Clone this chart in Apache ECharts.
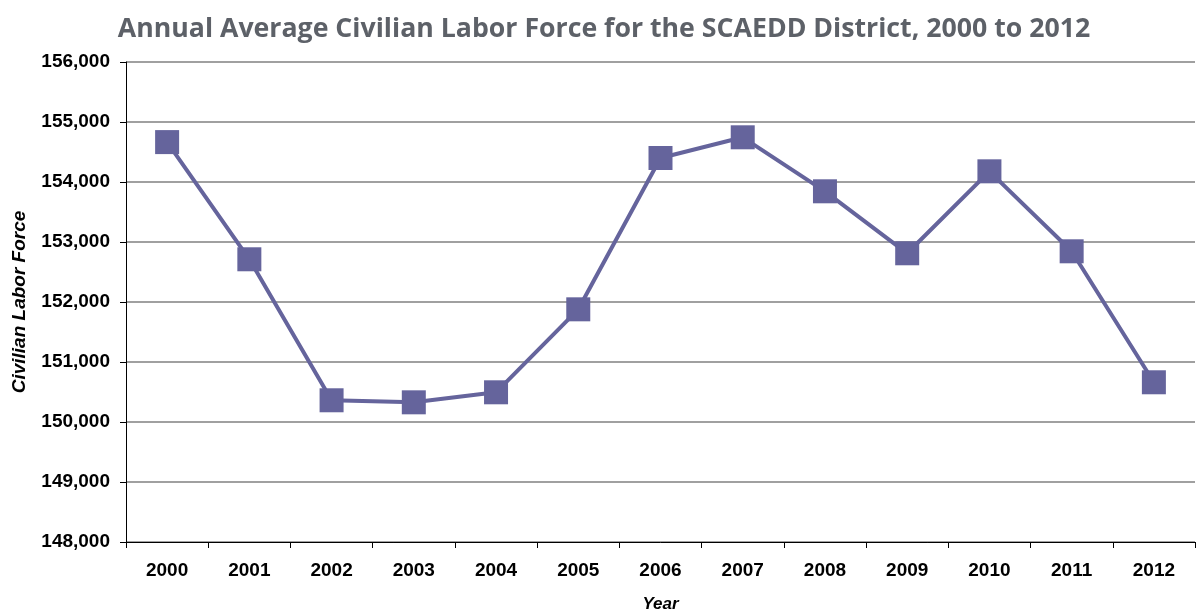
<!DOCTYPE html>
<html>
<head>
<meta charset="utf-8">
<script src="https://cdn.jsdelivr.net/npm/echarts@6/dist/echarts.min.js"></script>
<style>
  html, body { margin: 0; padding: 0; background: #fff; }
  #main { width: 1197px; height: 612px; }
</style>
</head>
<body>
<div id="main"></div>
<script>
// data
var years = ['2000', '2001', '2002', '2003', '2004', '2005', '2006', '2007', '2008', '2009', '2010', '2011', '2012'];
var laborForce = [154665, 152712, 150362, 150328, 150495, 151878, 154400, 154745, 153845, 152812, 154178, 152845, 150662];

var chart = echarts.init(document.getElementById('main'));
chart.setOption({
    animation: false,
    title: {
        text: 'Annual Average Civilian Labor Force for the SCAEDD District, 2000 to 2012',
        left: 599,
        textAlign: 'center',
        top: 11,
        textStyle: { fontFamily: 'Open Sans', fontWeight: 'bold', fontSize: 26.7, color: '#5d6168' }
    },
    grid: { left: 126, right: 2, top: 62, bottom: 70, outerBoundsMode: 'none' },
    xAxis: {
        type: 'category',
        data: years,
        boundaryGap: true,
        name: 'Year',
        nameLocation: 'middle',
        nameGap: 54,
        nameTextStyle: { fontFamily: 'Liberation Sans', fontStyle: 'italic', fontWeight: 'bold', fontSize: 17, color: '#000' },
        axisLine: { lineStyle: { color: '#000', width: 1 } },
        axisTick: { show: true, length: 6, lineStyle: { color: '#000' } },
        axisLabel: { margin: 19, fontFamily: 'Liberation Sans', fontWeight: 'bold', fontSize: 19, color: '#000' }
    },
    yAxis: {
        type: 'value',
        min: 148000,
        max: 156000,
        interval: 1000,
        name: 'Civilian Labor Force',
        nameLocation: 'middle',
        nameGap: 97,
        nameTextStyle: { fontFamily: 'Liberation Sans', fontStyle: 'italic', fontWeight: 'bold', fontSize: 19, color: '#000' },
        axisLine: { show: true, lineStyle: { color: '#000', width: 1 } },
        axisTick: { show: true, length: 6, lineStyle: { color: '#000' } },
        axisLabel: {
            margin: 16,
            fontFamily: 'Liberation Sans', fontWeight: 'bold', fontSize: 19, color: '#000',
            formatter: function (v) { return v.toLocaleString('en-US'); }
        },
        splitLine: { show: true, lineStyle: { color: '#808080', width: 1.5 } }
    },
    series: [{
        type: 'line',
        data: laborForce,
        symbol: 'rect',
        symbolSize: 24,
        lineStyle: { color: '#65649c', width: 4 },
        itemStyle: { color: '#65649c' }
    }]
});
</script>
</body>
</html>
